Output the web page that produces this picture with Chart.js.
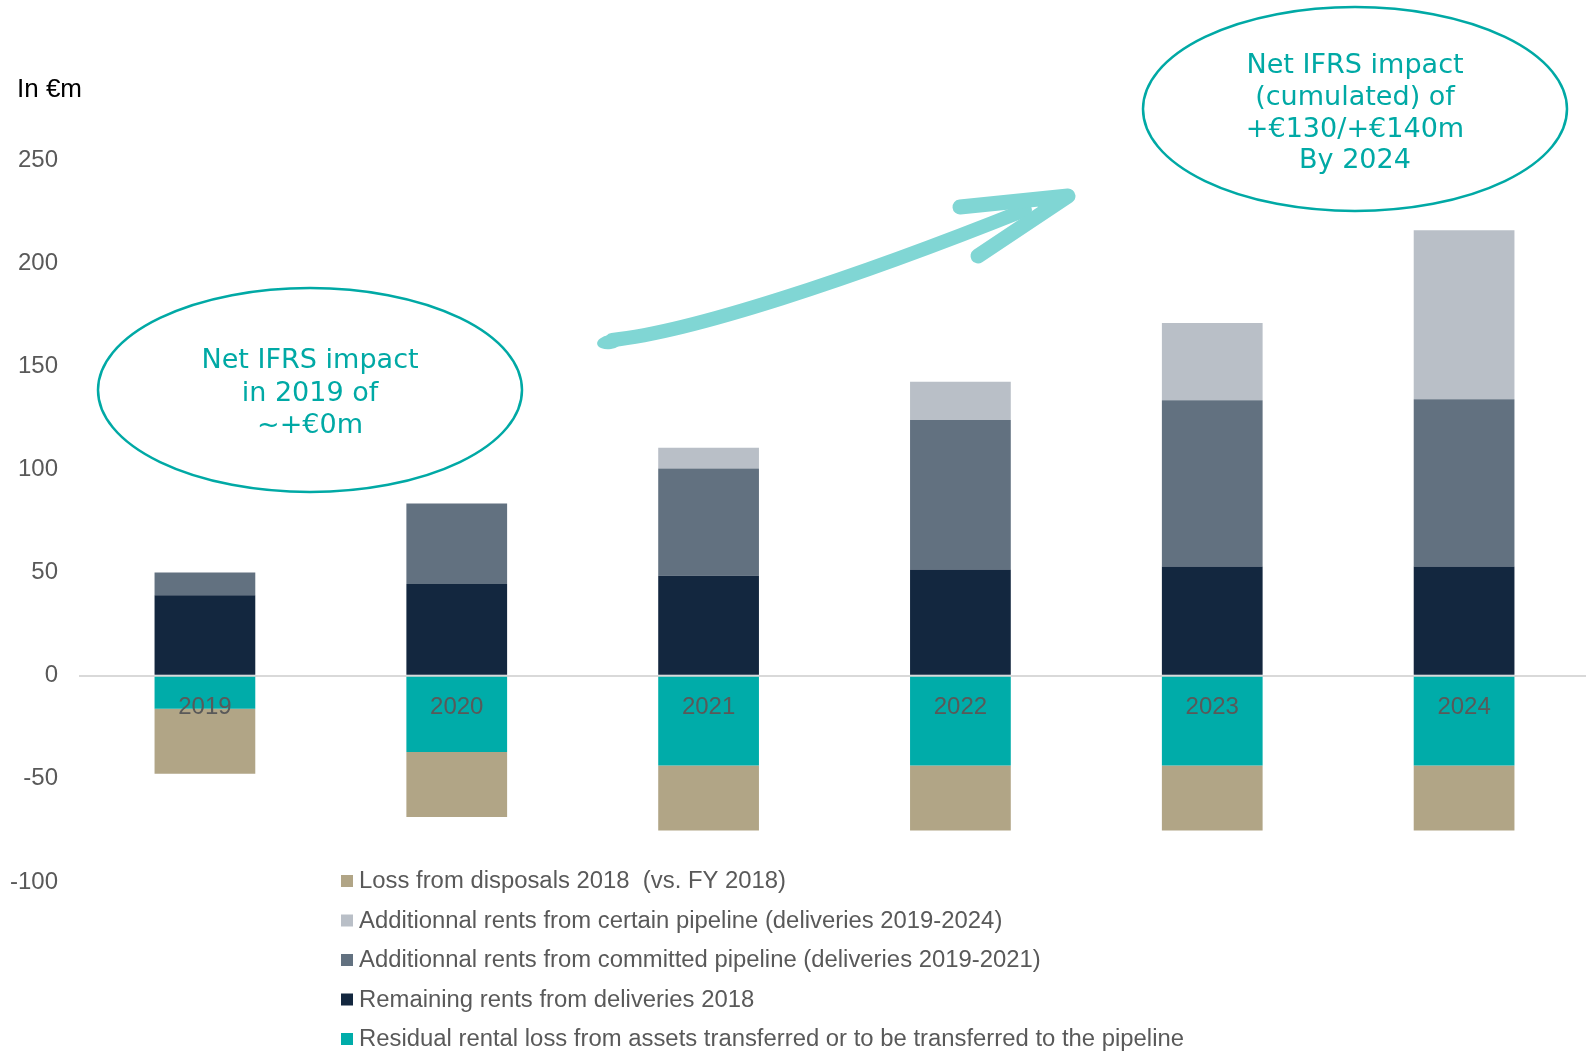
<!DOCTYPE html>
<html>
<head>
<meta charset="utf-8">
<title>Net IFRS impact</title>
<script src="https://cdn.jsdelivr.net/npm/chart.js@4.4.1/dist/chart.umd.min.js"></script>
<style>
    html, body { margin: 0; padding: 0; background: #fff; overflow: hidden; }
    #wrap { width: 1590px; height: 1051px; }
</style>
</head>
<body>
<div id="wrap"><canvas id="ifrsChart" width="1590" height="1051"></canvas></div>
<script>
// Years on the x axis
const years = ['2019', '2020', '2021', '2022', '2023', '2024'];

// Series, in €m
const residualLoss = [-16, -37, -43.5, -43.5, -43.5, -43.5];
const remainingRents = [39, 44.5, 48.5, 51.5, 53, 53];
const committedPipeline = [11, 39, 52, 72.5, 80.5, 81];
const certainPipeline = [0, 0, 10, 18.5, 37.5, 82];
const disposalsLoss = [-31.5, -31.5, -31.5, -31.5, -31.5, -31.5];

// Legend entries, top to bottom
const legendLabels = [
    'Loss from disposals 2018  (vs. FY 2018)',
    'Additionnal rents from certain pipeline (deliveries 2019-2024)',
    'Additionnal rents from committed pipeline (deliveries 2019-2021)',
    'Remaining rents from deliveries 2018',
    'Residual rental loss from assets transferred or to be transferred to the pipeline'
];

const COLORS = {
    tan: '#b1a586',
    light: '#b9bfc7',
    slate: '#627180',
    navy: '#13273f',
    teal: '#00aca9'
};
const legendColors = [COLORS.tan, COLORS.light, COLORS.slate, COLORS.navy, COLORS.teal];

const TEXT_GREY = '#595959';
const CALLOUT = '#00a9a5';

// Draws an ellipse callout with centred lines of text
function drawCallout(ctx, cx, cy, rx, ry, lines, firstBaseline, lineGap) {
    ctx.save();
    ctx.beginPath();
    ctx.ellipse(cx, cy, rx, ry, 0, 0, Math.PI * 2);
    ctx.lineWidth = 2.5;
    ctx.strokeStyle = CALLOUT;
    ctx.stroke();
    ctx.fillStyle = CALLOUT;
    ctx.font = '26px "DejaVu Sans", Verdana, sans-serif';
    ctx.textAlign = 'center';
    ctx.textBaseline = 'alphabetic';
    lines.forEach((line, i) => {
        ctx.save();
        ctx.translate(cx, firstBaseline + i * lineGap);
        ctx.scale(1.04, 1);
        ctx.fillText(line, 0, 0);
        ctx.restore();
    });
    ctx.restore();
}

// Hand-drawn looking trend arrow
function drawArrow(ctx) {
    ctx.save();
    ctx.strokeStyle = '#80d6d4';
    ctx.fillStyle = '#80d6d4';
    ctx.lineCap = 'round';
    ctx.lineJoin = 'round';

    // shaft
    ctx.lineWidth = 14;
    ctx.beginPath();
    ctx.moveTo(612, 340);
    ctx.bezierCurveTo(690, 332, 850, 280, 1025, 210);
    ctx.stroke();

    // tail flare
    ctx.beginPath();
    ctx.ellipse(610, 342, 13, 7, -0.15, 0, Math.PI * 2);
    ctx.fill();

    // head barbs
    ctx.lineWidth = 15;
    ctx.beginPath();
    ctx.moveTo(960, 207);
    ctx.lineTo(1068, 196);
    ctx.lineTo(978, 256);
    ctx.stroke();
    ctx.restore();
}

const annotations = {
    id: 'annotations',
    afterDatasetsDraw(chart) {
        const ctx = chart.ctx;
        const x = chart.scales.x;
        const y = chart.scales.y;

        // year labels sit just under the zero line
        ctx.save();
        ctx.fillStyle = TEXT_GREY;
        ctx.font = '24px "Liberation Sans", Arial, sans-serif';
        ctx.textAlign = 'center';
        ctx.textBaseline = 'middle';
        const labelY = y.getPixelForValue(0) + 32;
        years.forEach((yr, i) => ctx.fillText(yr, x.getPixelForValue(i), labelY));
        ctx.restore();
    },
    afterDraw(chart) {
        const ctx = chart.ctx;

        // unit label
        ctx.save();
        ctx.fillStyle = '#000';
        ctx.font = '26px "Liberation Sans", Arial, sans-serif';
        ctx.textBaseline = 'alphabetic';
        ctx.fillText('In €m', 17, 97);
        ctx.restore();

        drawCallout(ctx, 310, 390, 212, 102,
            ['Net IFRS impact', 'in 2019 of', '~+€0m'], 368, 32.5);
        drawCallout(ctx, 1355, 109, 212, 102,
            ['Net IFRS impact', '(cumulated) of', '+€130/+€140m', 'By 2024'], 73, 31.8);
        drawArrow(ctx);

        // legend, condensed text
        ctx.save();
        ctx.font = '23px "Liberation Sans", Arial, sans-serif';
        ctx.textBaseline = 'alphabetic';
        const widest = ctx.measureText(legendLabels[4]).width;
        const squeeze = 825 / widest;
        legendLabels.forEach((label, i) => {
            const base = 888 + i * 39.5;
            ctx.fillStyle = legendColors[i];
            ctx.fillRect(341, base - 13, 12, 12);
            ctx.save();
            ctx.translate(359, base);
            ctx.scale(squeeze, 1);
            ctx.fillStyle = TEXT_GREY;
            ctx.fillText(label, 0, 0);
            ctx.restore();
        });
        ctx.restore();
    }
};

function barSet(label, data, color) {
    return {
        label: label,
        data: data,
        backgroundColor: color,
        borderWidth: 0,
        barPercentage: 0.8,
        categoryPercentage: 0.5
    };
}

const ctx = document.getElementById('ifrsChart').getContext('2d');
new Chart(ctx, {
    type: 'bar',
    data: {
        labels: years,
        datasets: [
            barSet(legendLabels[4], residualLoss, COLORS.teal),
            barSet(legendLabels[3], remainingRents, COLORS.navy),
            barSet(legendLabels[2], committedPipeline, COLORS.slate),
            barSet(legendLabels[1], certainPipeline, COLORS.light),
            barSet(legendLabels[0], disposalsLoss, COLORS.tan)
        ]
    },
    options: {
        responsive: false,
        animation: false,
        layout: { padding: { top: 160, bottom: 169, left: 0, right: 0 } },
        plugins: {
            legend: { display: false },
            tooltip: { enabled: false }
        },
        scales: {
            x: {
                stacked: true,
                display: false
            },
            y: {
                stacked: true,
                min: -100,
                max: 250,
                afterFit(scale) { scale.width = 79; },
                border: { display: false },
                grid: {
                    drawTicks: false,
                    lineWidth: 2,
                    color: c => (c.tick && c.tick.value === 0 ? '#d9d9d9' : 'rgba(0,0,0,0)')
                },
                ticks: {
                    stepSize: 50,
                    padding: 21,
                    color: TEXT_GREY,
                    font: { family: '"Liberation Sans", Arial, sans-serif', size: 24 }
                }
            }
        }
    },
    plugins: [annotations]
});
</script>
</body>
</html>
